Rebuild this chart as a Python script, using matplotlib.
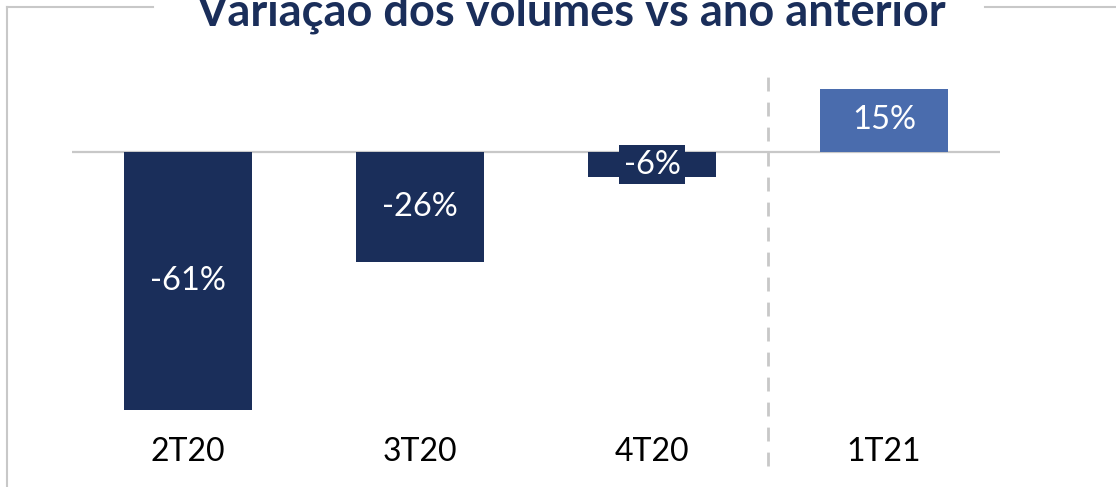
import matplotlib.pyplot as plt
from matplotlib.lines import Line2D

plt.rcParams['font.family'] = ['Lato', 'DejaVu Sans']

quarters = ["2T20", "3T20", "4T20", "1T21"]
values = [-61, -26, -6, 15]
labels = ["-61%", "-26%", "-6%", "15%"]
colors = ["#1a2e5a", "#1a2e5a", "#1a2e5a", "#4a6cad"]

W, H = 1116, 487
fig = plt.figure(figsize=(W / 100, H / 100), dpi=100)

# axes placed in pixel terms: x 72..1000, y 60..420 (from top)
ax = fig.add_axes([72 / W, 1 - 420 / H, 928 / W, 360 / H])
ppu = 4.23  # pixels per percentage point
ax.set_xlim(-0.5, 3.5)
ax.set_ylim(-(420 - 152) / ppu, (152 - 60) / ppu)

x = range(len(quarters))
ax.bar(x, values, 0.556, color=colors, zorder=2)
ax.axhline(0, color="#c8c8c8", lw=1.6, zorder=1)

for i, (v, lab) in enumerate(zip(values, labels)):
    if abs(v) < 10:
        ax.text(i, v / 2, lab, ha="center", va="center", color="white", fontsize=23.5, zorder=3,
                bbox=dict(boxstyle="square,pad=0.13", fc=colors[i], ec="none"))
    else:
        ax.text(i, v / 2, lab, ha="center", va="center", color="white", fontsize=23.5, zorder=3)

ax.vlines(2.5, -(466 - 152) / ppu, (152 - 69) / ppu, colors="#c8c8c8", lw=2,
          linestyles=(0, (5, 4)), clip_on=False)

ax.set_xticks(list(x))
ax.set_xticklabels(quarters, fontsize=23, color="black")
ax.tick_params(axis="x", length=0, pad=12)
ax.set_yticks([])
for s in ax.spines.values():
    s.set_visible(False)

# frame around chart
fc = "#c8c8c8"
fig.add_artist(Line2D([7 / W, 7 / W], [0, 1 - 7 / H], color=fc, lw=1.5))
fig.add_artist(Line2D([7 / W, 153 / W], [1 - 7 / H, 1 - 7 / H], color=fc, lw=1.5))
fig.add_artist(Line2D([985 / W, 1], [1 - 7 / H, 1 - 7 / H], color=fc, lw=1.5))

fig.text(571 / W, 1 - 26 / H, "Variação dos volumes vs ano anterior", ha="center", va="baseline",
         fontsize=32.5, fontweight="bold", color="#1a2e5a")

fig.savefig("out.png", dpi=100)
